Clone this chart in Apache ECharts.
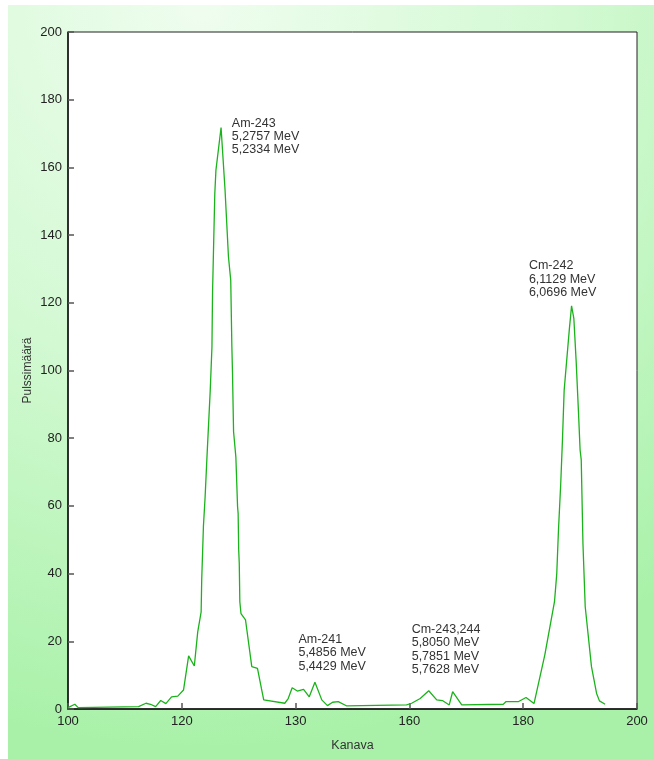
<!DOCTYPE html>
<html>
<head>
<meta charset="utf-8">
<script src="https://cdn.jsdelivr.net/npm/echarts@6/dist/echarts.min.js"></script>
<style>
  html, body { margin: 0; padding: 0; background: #ffffff; }
  #chart { width: 654px; height: 759px; }
</style>
</head>
<body>
<div id="chart"></div>
<script>
// Alpha spectrum: counts per channel
const channels = [
  100, 101.2, 101.8, 112.4, 113.7, 114.5, 115.4, 116.3, 117.2, 118.2,
  119.3, 120.3, 121.2, 122.2, 122.8, 123.4, 123.5, 123.8, 124.1, 124.4,
  125.0, 125.3, 125.4, 125.8, 126.0, 126.9, 127.6, 128.2, 128.6, 128.8,
  128.9, 129.1, 129.5, 129.8, 129.9, 130.0, 130.1, 130.2, 130.4, 131.2,
  132.3, 133.3, 134.0, 134.4, 138.1, 138.7, 139.4, 140.3, 141.4, 142.4,
  143.4, 144.6, 145.6, 146.5, 147.5, 149.0, 159.5, 160.4, 161.9, 163.4,
  164.8, 165.8, 167.0, 167.6, 169.2, 176.5, 177.0, 179.2, 180.5, 181.9,
  183.8, 185.5, 185.9, 186.2, 186.6, 186.9, 187.2, 188.1, 188.5, 188.9,
  189.3, 189.7, 190.0, 190.2, 190.5, 190.9, 192.0, 192.9, 193.4, 194.4
];
const counts = [
  0.4, 1.4, 0.4, 0.7, 1.7, 1.4, 0.7, 2.5, 1.6, 3.6,
  3.8, 5.6, 15.7, 12.7, 22.8, 28.7, 38.1, 53.9, 62.7, 73.6,
  94.2, 107, 122.8, 152.3, 159.2, 171.8, 153.3, 133.6, 126.7, 107,
  100.1, 81.9, 74.5, 59.8, 57.8, 47, 43, 31.7, 28.2, 26.3,
  12.5, 12, 6, 2.7, 1.7, 3.1, 6.3, 5.3, 5.8, 3.6,
  7.9, 2.7, 1.0, 2.0, 2.2, 0.9, 1.2, 1.7, 3.1, 5.4,
  2.7, 2.5, 1.2, 5.1, 1.2, 1.4, 2.2, 2.2, 3.4, 1.6,
  16, 31.7, 40, 52.9, 66.7, 79.5, 94.2, 112, 119.1, 115.4,
  103, 88.3, 76.5, 73.6, 48.9, 30.2, 12.5, 4.6, 2.4, 1.4
];

// Printed labels under the x ticks (100, 120, 140, 160, 180, 200)
const xTickLabels = ['100', '120', '130', '160', '180', '200'];

// Peak annotations: text lines and anchor (channel, count) of the block's top-left
const peakNames = ['Am-243', 'Am-241', 'Cm-243,244', 'Cm-242'];
const peakEnergies = [
  ['5,2757 MeV', '5,2334 MeV'],
  ['5,4856 MeV', '5,4429 MeV'],
  ['5,8050 MeV', '5,7851 MeV', '5,7628 MeV'],
  ['6,1129 MeV', '6,0696 MeV']
];
const peakAnchorX = [128.8, 140.5, 160.4, 181.0];
const peakAnchorY = [175, 22.5, 25.4, 132.9];

const FONT = '"Liberation Sans", Arial, sans-serif';
const chart = echarts.init(document.getElementById('chart'), null, { renderer: 'canvas' });

const option = {
  animation: false,
  backgroundColor: '#ffffff',
  grid: {
    left: 68, right: 17, top: 32, bottom: 50,
    show: true, backgroundColor: '#ffffff', borderColor: '#222', borderWidth: 1
  },
  xAxis: {
    type: 'value', min: 100, max: 200, interval: 20,
    name: 'Kanava', nameLocation: 'middle', nameGap: 30,
    nameTextStyle: { fontFamily: FONT, fontSize: 12.5, color: '#333' },
    axisLine: { show: true, lineStyle: { color: '#111', width: 1.5 } },
    axisTick: { show: true, inside: true, length: 6, lineStyle: { color: '#555', width: 1.5 } },
    axisLabel: {
      fontFamily: FONT, fontSize: 13, color: '#222', margin: 6,
      formatter: v => xTickLabels[Math.round((v - 100) / 20)]
    },
    splitLine: { show: false }
  },
  yAxis: {
    type: 'value', min: 0, max: 200, interval: 20,
    name: 'Pulssimäärä', nameLocation: 'middle', nameGap: 34, nameRotate: 90,
    nameMoveOverlap: false,
    nameTextStyle: { fontFamily: FONT, fontSize: 12, color: '#333' },
    axisLine: { show: true, lineStyle: { color: '#111', width: 1.5 } },
    axisTick: { show: true, inside: true, length: 6, lineStyle: { color: '#555', width: 1.5 } },
    axisLabel: { fontFamily: FONT, fontSize: 13, color: '#222', margin: 6 },
    splitLine: { show: false }
  },
  graphic: [{
    type: 'rect', z: -10, silent: true,
    shape: { x: 8, y: 5, width: 646, height: 754 },
    style: {
      fill: new echarts.graphic.RadialGradient(0.3, 0.0, 1.15, [
        { offset: 0, color: '#effdef' },
        { offset: 0.5, color: '#d2f9d2' },
        { offset: 1, color: '#a9f1a9' }
      ])
    }
  }],
  series: [{
    type: 'line',
    data: channels.map((c, i) => [c, counts[i]]),
    showSymbol: false,
    lineStyle: { color: '#1bb31b', width: 1.3 },
    z: 3
  }]
};
chart.setOption(option);

// Place the peak annotations at their data anchors
const texts = peakNames.map((name, i) => {
  const p = chart.convertToPixel({ gridIndex: 0 }, [peakAnchorX[i], peakAnchorY[i]]);
  return {
    type: 'text', x: p[0], y: p[1], z: 10, silent: true,
    style: {
      text: [name].concat(peakEnergies[i]).join('\n'),
      font: '12.5px ' + FONT, fill: '#333', lineHeight: 13.3,
      textAlign: 'left', textVerticalAlign: 'top'
    }
  };
});
chart.setOption({ graphic: option.graphic.concat(texts) });
</script>
</body>
</html>
